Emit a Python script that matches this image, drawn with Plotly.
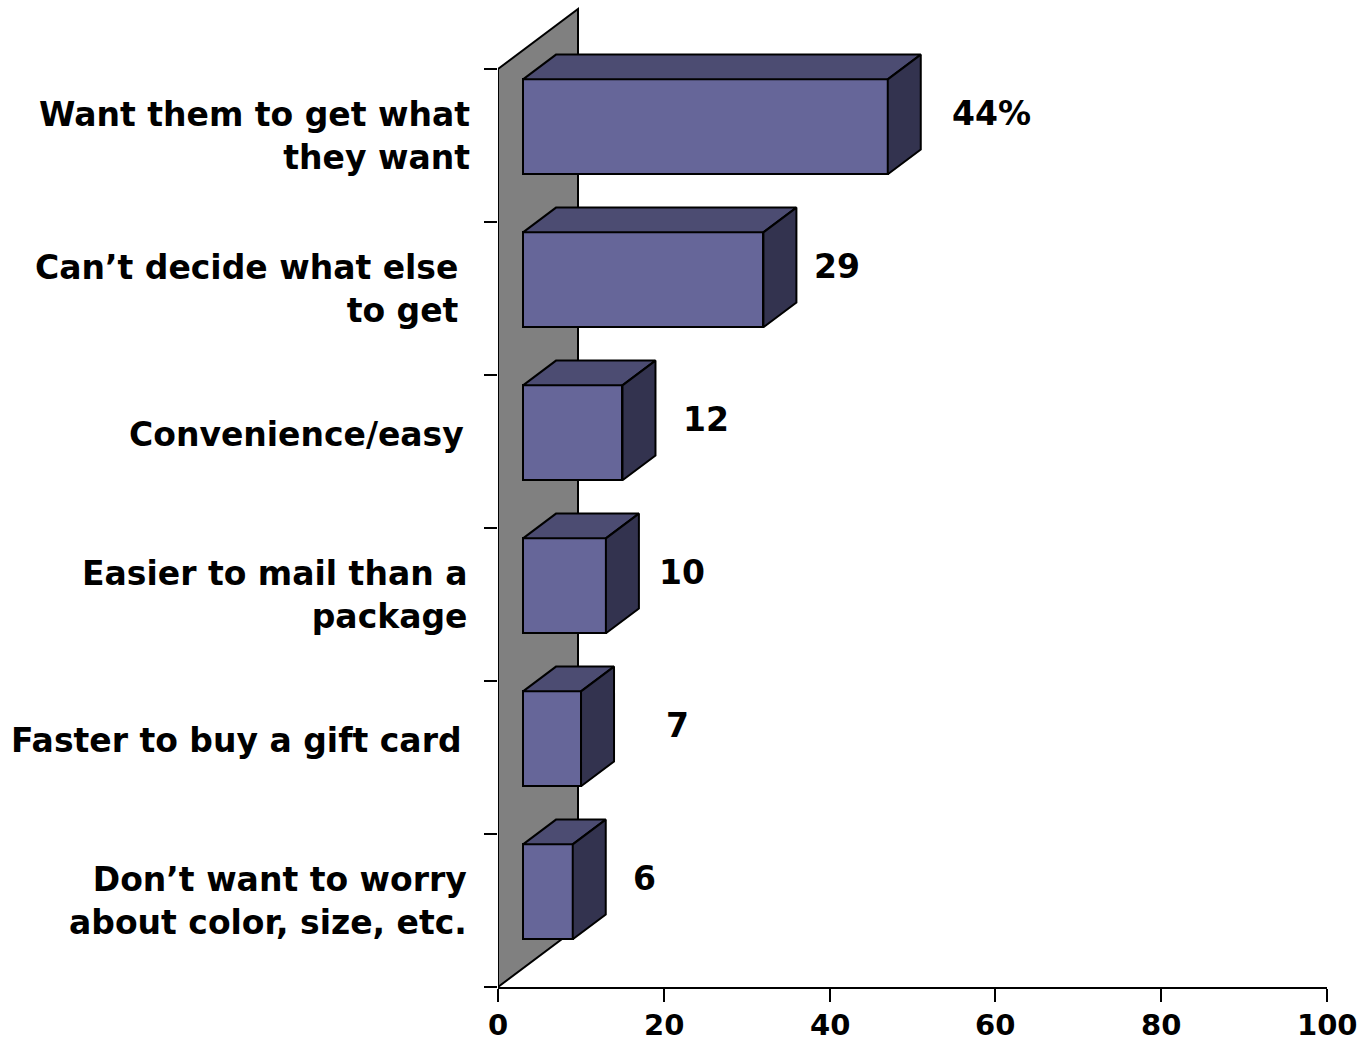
import plotly.graph_objects as go

# Survey answers (top to bottom) and their shares in percent
categories = [
    "Want them to get what<br>they want",
    "Can’t decide what else<br>to get",
    "Convenience/easy",
    "Easier to mail than a<br>package",
    "Faster to buy a gift card",
    "Don’t want to worry<br>about color, size, etc.",
]
values = [44, 29, 12, 10, 7, 6]
value_text = ["44%", "29", "12", "10", "7", "6"]
x_ticks = [0, 20, 40, 60, 80, 100]

# --- layout / pseudo-3D geometry (in axis units) ---
FONT = "DejaVu Sans"
FSIZE = 33
TICK_FSIZE = 29
X_MAX = 100
WALL_DX, WALL_DY = 9.65, 0.392          # full depth of the back wall
BAR_D0, BAR_D1 = 0.3125, 0.725          # bar depth span (fraction of wall depth)
BAR_HALF = 0.31                          # half bar height (category slots)
FRONT = "#666699"
TOP = "#4c4c72"
SIDE = "#33334f"
WALL = "#808080"

label_right = [-3.14, -4.44, -3.84, -3.49, -4.09, -3.49]
value_dx = [15.5, 11.9, 13.1, 12.2, 14.7, 11.7]

n = len(categories)
centers = [n - 0.5 - i for i in range(n)]   # first category at the top

bx0 = BAR_D0 * WALL_DX
by_off = BAR_D0 * WALL_DY
ddx = (BAR_D1 - BAR_D0) * WALL_DX
ddy = (BAR_D1 - BAR_D0) * WALL_DY

fig = go.Figure()

# front faces
fig.add_trace(go.Bar(
    orientation="h",
    x=values,
    base=[bx0] * n,
    y=[c + by_off for c in centers],
    width=2 * BAR_HALF,
    marker=dict(color=FRONT, line=dict(color="black", width=2)),
    hoverinfo="skip",
))

# top and side faces
for v, c in zip(values, centers):
    yt = c + by_off + BAR_HALF
    yb = c + by_off - BAR_HALF
    xr = bx0 + v
    fig.add_trace(go.Scatter(
        x=[bx0, xr, xr + ddx, bx0 + ddx, bx0],
        y=[yt, yt, yt + ddy, yt + ddy, yt],
        fill="toself", fillcolor=TOP, mode="lines",
        line=dict(color="black", width=2), hoverinfo="skip",
    ))
    fig.add_trace(go.Scatter(
        x=[xr, xr, xr + ddx, xr + ddx, xr],
        y=[yb, yt, yt + ddy, yb + ddy, yb],
        fill="toself", fillcolor=SIDE, mode="lines",
        line=dict(color="black", width=2), hoverinfo="skip",
    ))

# back wall
fig.add_shape(
    type="path", layer="below",
    path=f"M 0,0 L 0,{n} L {WALL_DX},{n + WALL_DY} L {WALL_DX},{WALL_DY} Z",
    fillcolor=WALL, line=dict(color="black", width=2),
)

annotations = []
for lab, c, xr in zip(categories, centers, label_right):
    off = 0.065 if "<br>" in lab else 0.11
    annotations.append(dict(
        x=xr / X_MAX, y=c + off, xref="paper", yref="y", text=lab,
        showarrow=False, xanchor="right", yanchor="middle", align="right",
        font=dict(family=FONT, size=FSIZE, color="black", weight="bold"),
    ))
for v, t, c, dx in zip(values, value_text, centers, value_dx):
    annotations.append(dict(
        x=v + dx, y=c + 0.21, xref="x", yref="y", text=t, showarrow=False,
        xanchor="center", yanchor="middle",
        font=dict(family=FONT, size=FSIZE, color="black", weight="bold"),
    ))
# value-axis tick labels
for t in x_ticks:
    annotations.append(dict(
        x=t, y=0, xref="x", yref="paper", text=str(t), showarrow=False,
        xanchor="center", yanchor="middle", yshift=-38,
        font=dict(family=FONT, size=TICK_FSIZE, color="black", weight="bold"),
    ))

fig.update_layout(
    width=1367, height=1042,
    margin=dict(l=498, r=40, t=5, b=55, autoexpand=False),
    paper_bgcolor="white", plot_bgcolor="white",
    showlegend=False,
    bargap=0,
    annotations=annotations,
    xaxis=dict(
        range=[0, X_MAX], tickvals=x_ticks, showticklabels=False,
        showgrid=False, zeroline=False, automargin=False,
        showline=True, linecolor="black", linewidth=2,
        ticks="outside", ticklen=13, tickwidth=2, tickcolor="black",
    ),
    yaxis=dict(
        range=[0, 982 / 153], tickvals=list(range(n + 1)),
        showticklabels=False, showgrid=False, zeroline=False, showline=False,
        automargin=False,
        ticks="outside", ticklen=13, tickwidth=2, tickcolor="black",
    ),
)

fig.write_html("out.html")
